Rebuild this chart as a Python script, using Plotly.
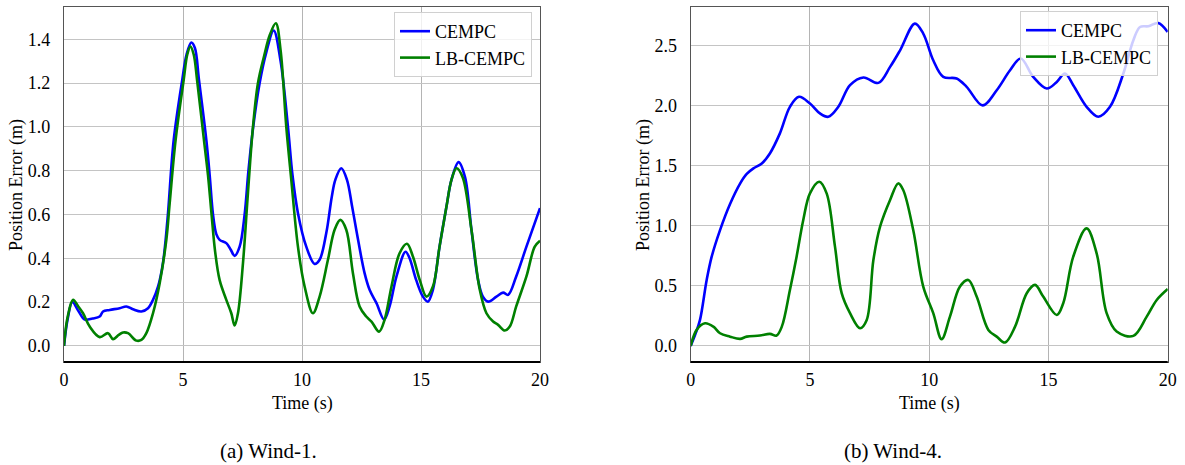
import plotly.graph_objects as go

# ---------------- data ----------------
# (a) Wind-1
w1_t_cempc = [0, 0.15, 0.35, 0.6, 0.87, 1.2, 1.5, 1.64, 1.92, 2.34, 2.62, 2.9, 3.25, 3.53, 3.74,
              3.95, 4.16, 4.35, 4.61, 4.97, 5.15, 5.35, 5.5, 5.67, 5.98, 6.12, 6.26, 6.4, 6.54, 6.82,
              7.0, 7.17, 7.38, 7.59, 7.75, 7.95, 8.22, 8.5, 8.81, 9.1, 9.41, 9.6, 9.83, 10.18, 10.53,
              10.74, 11.02, 11.25, 11.4, 11.65, 11.89, 12.1, 12.28, 12.63, 12.84, 13.13, 13.45, 13.68,
              13.97, 14.35, 14.52, 14.8, 15.08, 15.29, 15.5, 15.78, 16.07, 16.28, 16.58, 16.85, 17.12,
              17.4, 17.6, 17.82, 18.17, 18.45, 18.66, 19.0, 19.43, 20]
w1_v_cempc = [0, 0.12, 0.2, 0.16, 0.12, 0.125, 0.134, 0.157, 0.164, 0.172, 0.18, 0.167, 0.157, 0.172, 0.21,
              0.27, 0.38, 0.58, 0.94, 1.215, 1.33, 1.385, 1.36, 1.215, 0.94, 0.78, 0.6, 0.51, 0.484, 0.469,
              0.44, 0.411, 0.453, 0.6, 0.8, 1.0, 1.2, 1.34, 1.44, 1.30, 1.0, 0.78, 0.606, 0.453, 0.374,
              0.393, 0.515, 0.68, 0.758, 0.811, 0.758, 0.64, 0.53, 0.332, 0.256, 0.195, 0.12, 0.18,
              0.317, 0.43, 0.4, 0.30, 0.225, 0.202, 0.256, 0.453, 0.636, 0.758, 0.839, 0.77, 0.53,
              0.30, 0.225, 0.202, 0.225, 0.243, 0.233, 0.317, 0.453, 0.629]

w1_t_lb = [0, 0.15, 0.38, 0.6, 0.8, 1.08, 1.5, 1.85, 2.06, 2.3, 2.48, 2.69, 3.04, 3.25, 3.46,
           3.74, 4.02, 4.3, 4.44, 4.69, 5.03, 5.18, 5.31, 5.45, 5.59, 5.88, 6.05, 6.2, 6.35, 6.54,
           6.82, 7.03, 7.17, 7.31, 7.52, 7.73, 7.94, 8.15, 8.4, 8.65, 8.9, 9.1, 9.34, 9.55, 9.83,
           10.11, 10.46, 10.74, 11.09, 11.37, 11.61, 11.86, 12.14, 12.42, 12.7, 12.92, 13.24, 13.47,
           13.76, 14.1, 14.41, 14.66, 14.95, 15.23, 15.5, 15.78, 16.07, 16.28, 16.49, 16.75, 17.12,
           17.47, 17.75, 18.03, 18.24, 18.52, 18.73, 19.0, 19.43, 19.78, 20]
w1_v_lb = [0, 0.13, 0.21, 0.18, 0.149, 0.088, 0.04, 0.058, 0.031, 0.05, 0.061, 0.058, 0.024, 0.027, 0.058,
           0.149, 0.286, 0.484, 0.65, 0.94, 1.215, 1.33, 1.367, 1.33, 1.215, 0.94, 0.78, 0.6, 0.43, 0.3,
           0.21, 0.149, 0.093, 0.149, 0.378, 0.7, 1.0, 1.2, 1.32, 1.42, 1.473, 1.35, 1.0, 0.758, 0.453,
           0.271, 0.149, 0.225, 0.393, 0.53, 0.575, 0.53, 0.332, 0.18, 0.134, 0.111, 0.065, 0.119,
           0.271, 0.423, 0.466, 0.408, 0.30, 0.225, 0.271, 0.453, 0.636, 0.758, 0.811, 0.77, 0.53,
           0.256, 0.149, 0.111, 0.096, 0.07, 0.088, 0.18, 0.317, 0.453, 0.48]

# (b) Wind-4
w4_t_cempc = [0, 0.2, 0.39, 0.67, 0.88, 1.23, 1.65, 2.07, 2.35, 2.63, 2.98, 3.32, 3.74, 4.16, 4.54,
              5.0, 5.42, 5.77, 6.19, 6.68, 7.24, 7.87, 8.36, 8.78, 9.4, 9.75, 10.17, 10.59, 11.15, 11.57,
              12.24, 12.83, 13.39, 13.84, 14.36, 14.93, 15.35, 15.69, 16.04, 16.6, 17.09, 17.58, 18.14,
              18.56, 18.84, 19.19, 19.6, 20]
w4_v_cempc = [0, 0.1, 0.216, 0.548, 0.742, 0.963, 1.18, 1.35, 1.43, 1.476, 1.517, 1.6, 1.767, 1.988, 2.071,
              2.016, 1.933, 1.905, 1.988, 2.168, 2.232, 2.187, 2.32, 2.458, 2.68, 2.597, 2.375, 2.237, 2.223, 2.154,
              2.0, 2.126, 2.292, 2.39, 2.237, 2.14, 2.195, 2.265, 2.168, 1.988, 1.905, 1.988, 2.265,
              2.542, 2.652, 2.658, 2.685, 2.61]

w4_t_lb = [0, 0.25, 0.6, 0.95, 1.23, 1.65, 2.07, 2.35, 2.9, 3.32, 3.6, 3.82, 4.16, 4.44, 4.72,
           5.0, 5.39, 5.7, 6.05, 6.33, 6.68, 7.1, 7.38, 7.66, 7.94, 8.36, 8.7, 8.91, 9.33, 9.75,
           10.17, 10.52, 10.87, 11.29, 11.64, 11.99, 12.48, 12.83, 13.18, 13.6, 14.09, 14.44, 14.78,
           15.35, 15.62, 16.04, 16.6, 17.02, 17.44, 17.86, 18.56, 19.12, 19.54, 20]
w4_v_lb = [0, 0.133, 0.188, 0.16, 0.105, 0.077, 0.058, 0.077, 0.086, 0.1, 0.086, 0.16, 0.465, 0.742, 1.047,
           1.268, 1.365, 1.268, 0.825, 0.438, 0.272, 0.147, 0.216, 0.714, 0.991, 1.213, 1.351, 1.296, 0.963, 0.493,
           0.272, 0.056, 0.243, 0.493, 0.548, 0.41, 0.133, 0.077, 0.028, 0.16, 0.438, 0.507, 0.41,
           0.257, 0.355, 0.742, 0.977, 0.77, 0.272, 0.119, 0.083, 0.243, 0.382, 0.473]

series_names = ["CEMPC", "LB-CEMPC"]
x_ticks = [0, 5, 10, 15, 20]
captions = ["(a) Wind-1.", "(b) Wind-4."]
x_title = "Time (s)"
y_title = "Position Error (m)"

# ---------------- styling ----------------
W, H = 1185, 465
FONT = "Liberation Serif, Times New Roman, serif"
BLUE = "#0000ff"
GREEN = "#008000"
LW = 2.6

fig = go.Figure()

def add(t, v, name, color, xa, ya, legend, show):
    fig.add_trace(go.Scatter(x=t, y=v, mode="lines", name=name,
                             line=dict(color=color, width=LW, shape="spline", smoothing=1.0),
                             xaxis=xa, yaxis=ya, legend=legend, showlegend=show))

add(w1_t_cempc, w1_v_cempc, series_names[0], BLUE, "x", "y", "legend", True)
add(w1_t_lb, w1_v_lb, series_names[1], GREEN, "x", "y", "legend", True)
add(w4_t_cempc, w4_v_cempc, series_names[0], BLUE, "x2", "y2", "legend2", True)
add(w4_t_lb, w4_v_lb, series_names[1], GREEN, "x2", "y2", "legend2", True)

y_dom = [(H - 362) / H, (H - 7) / H]
xd1 = [64 / W, 540 / W]
xd2 = [690.7 / W, 1167.7 / W]

def xaxis(dom, anchor):
    return dict(domain=dom, anchor=anchor, range=[0, 20], tickvals=x_ticks, automargin=False,
                showgrid=True, gridcolor="#b4b4b4", gridwidth=1.2, zeroline=False,
                showline=True, linecolor="#555555", linewidth=1.3, mirror=True,
                ticks="outside", ticklen=1, tickcolor="rgba(0,0,0,0)",
                tickfont=dict(family=FONT, size=18, color="black"))

def yaxis(dom, anchor, rng, dt):
    return dict(domain=dom, anchor=anchor, range=rng, dtick=dt, tick0=0, tickformat=".1f",
                automargin=False,
                showgrid=True, gridcolor="#c4c4c4", gridwidth=1.2, zeroline=False,
                showline=True, linecolor="#555555", linewidth=1.3, mirror=True,
                ticks="outside", ticklen=9, tickcolor="rgba(0,0,0,0)",
                tickfont=dict(family=FONT, size=18, color="black"))

legend_style = dict(bgcolor="rgba(255,255,255,0.8)", bordercolor="#d0d0d0", borderwidth=1,
                    font=dict(family=FONT, size=18, color="black"),
                    xanchor="right", yanchor="top", tracegroupgap=0)

fig.update_layout(
    width=W, height=H, margin=dict(l=0, r=0, t=0, b=0, pad=0), autosize=False,
    paper_bgcolor="white", plot_bgcolor="white",
    xaxis=xaxis(xd1, "y"), yaxis=yaxis(y_dom, "x", [-0.0736, 1.547], 0.2),
    xaxis2=xaxis(xd2, "y2"), yaxis2=yaxis(y_dom, "x2", [-0.134, 2.818], 0.5),
    legend=dict(x=532 / W, y=1 - 12 / H, **legend_style),
    legend2=dict(x=1158 / W, y=1 - 11 / H, **legend_style),
    showlegend=True,
)

# black bottom spines
for xr, yr in (("x domain", "y domain"), ("x2 domain", "y2 domain")):
    fig.add_shape(type="line", xref=xr, yref=yr, x0=0, x1=1, y0=0, y1=0,
                  line=dict(color="black", width=1.8), layer="above")

ann_font = dict(family=FONT, size=18, color="black")
for xc in (302 / W, 929 / W):
    fig.add_annotation(text=x_title, x=xc, y=1 - 403 / H, xref="paper", yref="paper",
                       showarrow=False, font=ann_font, xanchor="center", yanchor="middle")
for yx in (16 / W, 643 / W):
    fig.add_annotation(text=y_title, x=yx, y=1 - 185 / H, xref="paper", yref="paper",
                       showarrow=False, font=ann_font, textangle=-90,
                       xanchor="center", yanchor="middle")
for cx, cap in zip((268 / W, 893 / W), captions):
    fig.add_annotation(text=cap, x=cx, y=1 - 451 / H, xref="paper", yref="paper",
                       showarrow=False, font=dict(family=FONT, size=21, color="black"),
                       xanchor="center", yanchor="middle")

fig.write_html("out.html")
